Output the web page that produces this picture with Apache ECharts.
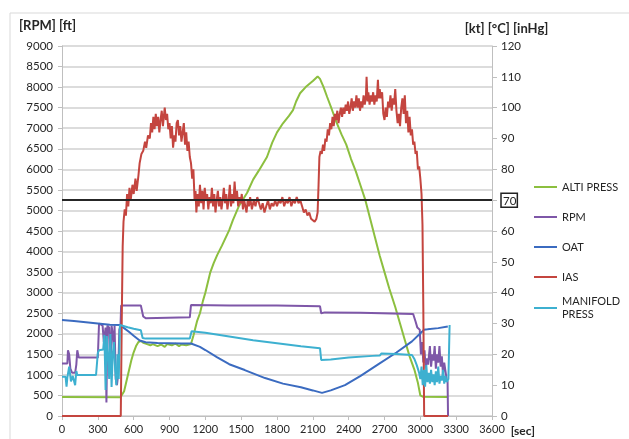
<!DOCTYPE html>
<html>
<head>
<meta charset="utf-8">
<script src="https://cdn.jsdelivr.net/npm/echarts@6/dist/echarts.min.js"></script>
<style>
  html, body { margin: 0; padding: 0; background: #fff; }
  #chart { width: 629px; height: 439px; }
</style>
</head>
<body>
<div id="chart"></div>
<script>
// [sec, ft]
var altiPress = [[0,460],[490,455],[500,470],[520,600],[540,850],[560,1100],[580,1350],[600,1550],[620,1700],[640,1800],[660,1830],[680,1780],[700,1760],[740,1720],[760,1750],[800,1700],[830,1740],[860,1680],[880,1750],[920,1720],[950,1760],[980,1700],[1000,1740],[1040,1720],[1080,1750],[1100,1950],[1130,2300],[1155,2500],[1180,2800],[1200,3000],[1240,3480],[1270,3720],[1300,3920],[1340,4150],[1400,4520],[1430,4760],[1480,5100],[1550,5430],[1600,5750],[1650,5980],[1716,6300],[1760,6650],[1800,6900],[1850,7120],[1900,7300],[1934,7440],[1960,7650],[1993,7850],[2040,8000],[2100,8150],[2140,8260],[2160,8200],[2190,8000],[2220,7760],[2260,7450],[2300,7130],[2340,6850],[2380,6600],[2420,6250],[2460,5950],[2500,5600],[2540,5250],[2580,4800],[2620,4350],[2660,3900],[2700,3500],[2740,3100],[2790,2650],[2830,2250],[2870,1850],[2910,1450],[2950,1130],[2980,800],[3000,500],[3020,470],[3230,465]];

// [sec, rpm]
var rpm = [[0,1280],[45,1280],[50,1600],[60,1500],[70,1150],[85,1050],[110,1050],[120,1250],[128,1600],[140,1420],[300,1420],[310,2250],[340,2200],[350,1800],[365,2150],[372,330],[380,2200],[395,2150],[405,1100],[415,2200],[425,2000],[435,1600],[440,2200],[450,900],[460,750],[470,1000],[480,2100],[490,2200],[495,2690],[660,2690],[680,2420],[700,2380],[1070,2400],[1080,2700],[1400,2690],[1800,2690],[2160,2670],[2170,2500],[2200,2520],[2500,2510],[2940,2480],[2960,2300],[2975,2150],[2995,2100],[3005,1500],[3015,1800],[3025,1300],[3035,1600],[3045,1150],[3055,1400],[3065,1250],[3080,1700],[3090,1200],[3100,1500],[3110,1350],[3120,1700],[3130,1150],[3140,1500],[3150,1300],[3160,1700],[3170,1200],[3180,1450],[3190,1000],[3200,1300],[3210,1100],[3220,900],[3228,850],[3232,0]];

// [sec, °C]
var oat = [[0,31.1],[100,30.8],[200,30.4],[300,30],[400,29.6],[490,29.5],[520,28.5],[560,27.3],[600,26],[650,24.5],[700,23.9],[800,23.7],[900,23.6],[1000,23.5],[1080,23.5],[1155,22.4],[1200,21.4],[1300,19],[1400,16.8],[1530,14.9],[1700,12.3],[1850,10.5],[2000,9.3],[2100,8.3],[2177,7.5],[2250,8.3],[2369,10],[2500,13],[2650,16.8],[2800,20.6],[2930,24.2],[3014,27.3],[3030,28],[3060,28.1],[3150,28.5],[3230,29]];

// [sec, kt]
var ias = [[0,0],[492,0],[500,30],[508,55],[515,63],[525,67],[535,65],[545,72],[555,68],[565,74],[575,70],[590,75],[600,72],[615,77],[625,73],[640,78],[650,82],[665,85],[680,86],[695,89],[705,87],[720,91],[735,90],[745,95],[755,92],[765,97],[775,93],[785,98],[795,94],[805,97],[815,92],[825,96],[835,99],[845,94],[860,100],[870,96],[880,98],[890,93],[900,95],[910,90],[920,94],[930,87],[940,91],[950,89],[960,95],[970,96],[980,91],[990,94],[1000,89],[1010,92],[1020,95],[1030,88],[1040,92],[1050,86],[1060,89],[1070,84],[1080,82],[1090,77],[1100,80],[1110,70],[1118,73],[1125,66],[1135,72],[1145,68],[1155,75],[1165,69],[1175,73],[1185,67],[1195,74],[1205,70],[1215,72],[1225,67],[1235,71],[1245,69],[1255,74],[1265,68],[1275,72],[1285,66],[1295,70],[1305,73],[1315,68],[1325,71],[1335,67],[1345,70],[1355,74],[1365,69],[1375,72],[1385,67],[1395,70],[1405,75],[1415,68],[1425,72],[1435,69],[1445,76],[1455,70],[1465,73],[1475,68],[1485,71],[1495,69],[1505,72],[1515,67],[1525,70],[1535,68],[1545,66],[1555,70],[1565,68],[1575,71],[1590,67],[1605,70],[1620,68],[1635,71],[1650,69],[1665,67],[1680,69],[1695,66],[1710,68],[1725,70],[1740,67],[1755,69],[1770,68],[1785,70],[1800,68],[1815,70],[1830,69],[1845,71],[1860,68],[1875,70],[1890,69],[1905,71],[1920,68],[1935,70],[1950,69],[1965,71],[1980,69],[1995,70],[2010,68],[2025,66],[2040,67],[2055,65],[2070,66],[2085,64],[2100,64],[2115,63],[2130,64],[2140,66],[2148,75],[2155,84],[2165,86],[2175,85],[2185,88],[2195,86],[2205,90],[2215,89],[2225,93],[2235,91],[2245,95],[2255,93],[2265,97],[2275,94],[2285,98],[2295,96],[2305,99],[2315,95],[2325,98],[2335,100],[2345,97],[2355,100],[2365,98],[2375,101],[2385,99],[2395,102],[2405,98],[2415,100],[2425,103],[2435,99],[2445,102],[2455,100],[2465,104],[2475,100],[2485,103],[2495,99],[2505,102],[2515,100],[2525,104],[2535,101],[2545,104],[2550,110],[2558,102],[2565,105],[2575,101],[2585,104],[2595,102],[2605,105],[2615,101],[2625,104],[2635,102],[2645,109],[2652,103],[2660,106],[2670,103],[2680,105],[2690,98],[2700,96],[2710,100],[2720,97],[2730,102],[2740,100],[2750,104],[2760,99],[2770,103],[2780,101],[2790,106],[2800,99],[2810,95],[2820,98],[2830,94],[2840,100],[2850,103],[2860,98],[2870,104],[2880,95],[2890,99],[2900,92],[2910,97],[2920,91],[2930,93],[2940,88],[2950,89],[2960,85],[2970,86],[2980,80],[2990,81],[3000,77],[3010,72],[3018,62],[3025,35],[3032,0],[3232,0]];

// [sec, inHg]
var manifoldPress = [[0,12.7],[30,12.7],[38,9.5],[45,12.5],[60,16],[75,11.2],[90,13],[110,10],[120,14.6],[128,13.3],[285,13.3],[300,20.5],[310,21.3],[345,21.6],[355,26.3],[365,8.4],[375,25.9],[385,20],[395,12],[405,26.6],[415,9.4],[425,20],[435,24],[445,15],[455,10],[465,20],[475,12],[485,29.5],[500,29.3],[550,28.8],[600,28.3],[660,27.8],[675,25.3],[700,25.1],[1070,25.1],[1085,27.5],[1200,27],[1400,25.8],[1600,24.6],[1800,23.6],[2000,22.6],[2160,22],[2170,18.2],[2250,18.3],[2400,19],[2600,19.5],[2660,19.6],[2675,20.3],[2800,20.1],[2930,19.8],[2950,18.5],[2970,16.5],[2990,14],[3000,12],[3010,16],[3020,10],[3030,15],[3040,9.5],[3050,16.5],[3060,11],[3070,14],[3080,10.5],[3090,15],[3100,11],[3110,13.5],[3120,10],[3130,14.5],[3140,11],[3150,16],[3160,10.5],[3170,13],[3180,11.5],[3190,15],[3200,10.5],[3210,13],[3220,11],[3235,12],[3245,29.5]];

var iasLimit = 70;

var colores = {
  alti: "#8CBF3F",
  rpm: "#7E57A8",
  oat: "#3B6BC0",
  ias: "#C4453F",
  manifold: "#3DB0D0"
};

var fuente = "Lato, Liberation Sans, Arial, sans-serif";
var grisEje = "#BFBFBF";
var colorTexto = "#262626";

var myChart = echarts.init(document.getElementById("chart"));

function linea(nombre, datos, color, eje) {
  return {
    name: nombre,
    type: "line",
    yAxisIndex: eje,
    data: datos,
    symbol: "none",
    lineStyle: { color: color, width: 2 },
    itemStyle: { color: color }
  };
}

var serieIas = linea("IAS", ias, colores.ias, 1);
serieIas.markLine = {
  silent: true,
  symbol: "none",
  label: { show: false },
  lineStyle: { color: "#262626", width: 2, type: "solid" },
  data: [{ yAxis: iasLimit }]
};

// leyenda comun
var leyendaBase = {
  orient: "vertical",
  left: 529,
  icon: "rect",
  itemWidth: 23,
  itemHeight: 2,
  itemGap: 17,
  textStyle: { fontSize: 11, color: colorTexto, fontFamily: fuente, lineHeight: 13 }
};

var option = {
  animation: false,
  backgroundColor: "#fff",
  textStyle: { fontFamily: fuente },
  graphic: [
    {
      type: "rect",
      shape: { x: 10, y: 13, width: 700, height: 500 },
      style: { fill: "none", stroke: "#D9D9D9", lineWidth: 1 },
      z: -1
    }
  ],
  grid: { left: 62, right: 137, top: 46, bottom: 23 },
  legend: [
    Object.assign({}, leyendaBase, {
      top: 175.5,
      data: ["ALTI PRESS", "RPM", "OAT", "IAS"]
    }),
    Object.assign({}, leyendaBase, {
      top: 283.5,
      formatter: function (name) {
        return "MANIFOLD\nPRESS";
      },
      data: [{ name: "MANIFOLD PRESS", textStyle: { padding: [13, 0, 0, 0] } }]
    })
  ],
  xAxis: {
    type: "value",
    min: 0,
    max: 3600,
    interval: 300,
    name: "[sec]",
    nameLocation: "end",
    nameGap: 11,
    nameTextStyle: { fontWeight: "bold", fontSize: 12, color: colorTexto, verticalAlign: "top", padding: [9, 0, 0, 0] },
    axisLine: { lineStyle: { color: grisEje } },
    axisTick: { show: true, length: 4, lineStyle: { color: grisEje } },
    axisLabel: { fontSize: 11, color: colorTexto, margin: 8, formatter: function (v) { return String(v); } },
    splitLine: { show: false }
  },
  yAxis: [
    {
      type: "value",
      min: 0,
      max: 9000,
      interval: 500,
      name: "[RPM] [ft]",
      nameLocation: "end",
      nameGap: 14,
      nameTextStyle: { fontWeight: "bold", fontSize: 13, color: colorTexto, align: "center", padding: [0, 29, 0, 0] },
      axisLine: { show: true, lineStyle: { color: grisEje } },
      axisTick: { show: true, length: 4, lineStyle: { color: grisEje } },
      axisLabel: { fontSize: 11.5, color: colorTexto, margin: 9, formatter: function (v) { return String(v); } },
      splitLine: { show: true, lineStyle: { color: "#D0D0D0", width: 1.5 } }
    },
    {
      type: "value",
      min: 0,
      max: 120,
      interval: 10,
      position: "right",
      name: "[kt] [°C] [inHg]",
      nameLocation: "end",
      nameGap: 11,
      nameTextStyle: { fontWeight: "bold", fontSize: 13, color: colorTexto, align: "center", padding: [0, 0, 0, 29] },
      axisLine: { show: true, lineStyle: { color: grisEje } },
      axisTick: { show: true, length: 5, lineStyle: { color: grisEje } },
      axisLabel: {
        fontSize: 11.5,
        color: colorTexto,
        margin: 9,
        formatter: function (v) {
          return v === iasLimit ? "{box|" + v + "}" : String(v);
        },
        rich: {
          box: {
            fontSize: 11.5,
            color: colorTexto,
            borderColor: "#222",
            borderWidth: 1.5,
            padding: [2, 1, 0, 2]
          }
        }
      },
      splitLine: { show: false }
    }
  ],
  series: [
    linea("ALTI PRESS", altiPress, colores.alti, 0),
    linea("RPM", rpm, colores.rpm, 0),
    linea("OAT", oat, colores.oat, 1),
    serieIas,
    linea("MANIFOLD PRESS", manifoldPress, colores.manifold, 1)
  ]
};

myChart.setOption(option);
</script>
</body>
</html>
